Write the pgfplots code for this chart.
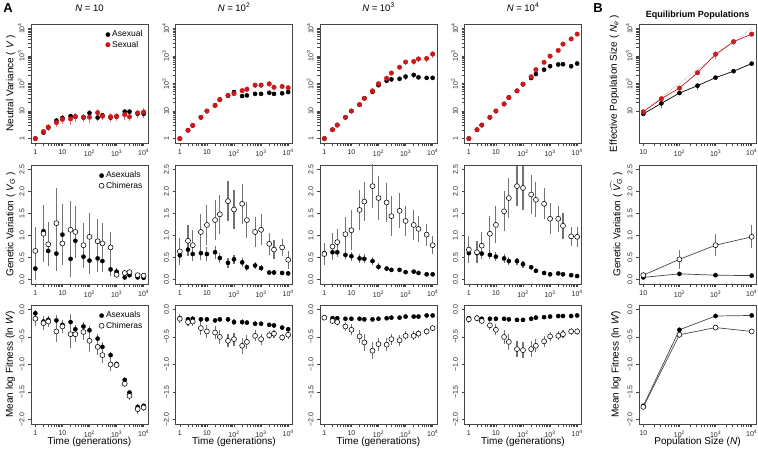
\documentclass[border=0pt]{standalone}
\usepackage{fontspec}
\setmainfont{Liberation Sans}
\setsansfont{Liberation Sans}
\usepackage{pgfplots}
\pgfplotsset{compat=1.18}
\usepackage{pgfplotstable}

\definecolor{rred}{RGB}{205,25,25}
\definecolor{ebred}{RGB}{232,120,120}
\definecolor{ebgray}{RGB}{115,115,115}
\definecolor{frm}{RGB}{70,70,70}
\definecolor{lgray}{RGB}{70,70,70}

\newcommand{\tpow}[1]{10\textsuperscript{#1}}

\pgfplotsset{
 rbase/.style={scale only axis, width=117pt, height=119pt, anchor=south west,
   axis line style={draw=frm, line width=0.6pt},
   tick style={draw=frm, line width=0.6pt},
   tick align=outside, major tick length=3pt,
   xtick pos=left, ytick pos=left,
   minor tick num=0,
   ticklabel style={font=\fontsize{7}{8}\selectfont, text=black!85},
   yticklabel style={rotate=90, anchor=south},
   title style={font=\fontsize{9.5}{11}\selectfont, at={(axis description cs:0.5,1)}, anchor=base, yshift=6.5pt},
   xlabel style={font=\fontsize{10}{11}\selectfont, at={(axis description cs:0.5,0)}, anchor=base, yshift=-21pt},
   ylabel style={font=\fontsize{10}{11}\selectfont, anchor=base},
   legend style={draw=none, fill=none, at={(axis description cs:0.98,0.97)}, anchor=north east,
      font=\fontsize{8.5}{9}\selectfont, row sep=-1.5pt, inner sep=1pt},
   legend cell align=left,
 },
 timex/.style={xmin=0.6918, xmax=14454, xtick={1,10,100,1000,10000},
   xticklabels={1,10,\tpow{2},\tpow{3},\tpow{4}}},
 popx/.style={xmin=7.586, xmax=13183, xtick={10,100,1000,10000},
   xticklabels={10,\tpow{2},\tpow{3},\tpow{4}}},
 logy/.style={ymin=0.6918, ymax=14454},
 vgy/.style={ymin=-0.1, ymax=2.6, ytick={0,0.5,1,1.5,2,2.5}, yticklabels={0.0,0.5,1.0,1.5,2.0,2.5}},
 fity/.style={ymin=-2.08, ymax=0.08, ytick={-2,-1.5,-1,-0.5,0}, yticklabels={−2.0,−1.5,−1.0,−0.5,0.0}},
 fdot/.style={only marks, mark=*, mark size=2.1pt, draw=black, fill=black},
 rdot/.style={only marks, mark=*, mark size=2.3pt, draw=rred, fill=rred},
 odot/.style={only marks, mark=*, mark size=2.5pt, mark options={draw=black, fill=white, line width=0.55pt}},
}

\newcommand{\rowone}[1]{%
 \addplot[forget plot, draw=none, mark=none, error bars/.cd, y dir=both, y explicit relative,
   error mark=none, error bar style={draw=ebgray, line width=1.1pt, solid}] table[x=x,y=a,y error=ae]{#1};
 \addplot[forget plot, draw=none, mark=none, error bars/.cd, y dir=both, y explicit relative,
   error mark=none, error bar style={draw=ebred, line width=1.1pt, solid}] table[x=x,y=b,y error=be]{#1};
 \addplot[fdot] table[x=x,y=a]{#1};
 \addplot[rdot] table[x=x,y=b]{#1};
}
\newcommand{\rowtwo}[1]{%
 \addplot[forget plot, draw=none, mark=none, error bars/.cd, y dir=both, y explicit,
   error mark=none, error bar style={draw=ebgray, line width=1.1pt, solid}] table[x=x,y=b,y error=be]{#1};
 \addplot[forget plot, draw=none, mark=none, error bars/.cd, y dir=both, y explicit,
   error mark=none, error bar style={draw=ebgray, line width=1.1pt, solid}] table[x=x,y=a,y error=ae]{#1};
 \addplot[fdot] table[x=x,y=a]{#1};
 \addplot[odot] table[x=x,y=b]{#1};
}

% Row 1: neutral variance
\pgfplotstableread{
x a ae b be
1 1.0 0.15 1.0 0.2
2 1.66 0.2 1.8 0.25
3 2.5 0.2 2.6 0.25
6 4.5 0.25 3.8 0.3
10 5.6 0.25 5.0 0.35
20 6.5 0.25 5.2 0.4
30 6.3 0.3 6.3 0.35
60 5.8 0.3 6.0 0.35
100 8.5 0.3 6.0 0.4
200 5.8 0.25 8.7 0.35
300 7.0 0.25 6.5 0.3
600 5.8 0.3 6.2 0.35
1000 6.3 0.3 6.5 0.35
2000 9.5 0.3 7.4 0.35
3000 9.5 0.25 6.2 0.3
6000 8.0 0.3 8.5 0.3
10000 8.0 0.3 9.2 0.35
}\tA
\pgfplotstableread{
x a ae b be
1 1 0.05 1 0.05
2 2 0.05 2 0.05
3 3 0.05 3 0.05
6 5.9 0.05 5.9 0.05
10 10 0.05 10 0.05
20 16 0.08 16 0.08
30 26 0.08 26 0.08
60 36 0.12 37 0.1
100 49 0.2 43 0.15
200 35 0.15 55 0.15
300 37 0.15 62 0.2
600 42 0.12 87 0.2
1000 42 0.1 87 0.2
2000 46 0.1 97 0.25
3000 42 0.12 73 0.15
6000 44 0.15 78 0.15
10000 49 0.15 70 0.15
}\tB
\pgfplotstableread{
x a ae b be
1 1 0.05 1 0.05
2 2.1 0.05 2.1 0.05
3 3.1 0.05 3.1 0.05
6 5.9 0.05 5.9 0.05
10 10 0.05 10 0.05
20 17 0.05 17 0.05
30 29 0.08 29 0.08
60 50 0.1 54 0.1
100 87 0.1 98 0.1
200 125 0.12 155 0.1
300 141 0.15 240 0.1
600 148 0.15 390 0.15
1000 178 0.25 600 0.15
2000 205 0.2 630 0.25
3000 167 0.12 780 0.2
6000 160 0.1 810 0.25
10000 160 0.1 1170 0.25
}\tC
\pgfplotstableread{
x a ae b be
1 1 0.05 1 0.05
2 2.1 0.05 2.1 0.05
3 3.1 0.05 3.1 0.05
6 5.9 0.05 5.9 0.05
10 10 0.05 10 0.05
20 18 0.05 18 0.05
30 31 0.05 31 0.05
60 54 0.05 54 0.05
100 94 0.08 94 0.08
200 158 0.08 176 0.08
300 220 0.08 318 0.08
600 318 0.08 590 0.08
1000 424 0.1 985 0.08
2000 490 0.1 1590 0.08
3000 500 0.1 2700 0.08
6000 424 0.1 4150 0.08
10000 530 0.12 6200 0.08
}\tD
% Row 2: genetic variation (a = asexuals, b = chimeras)
\pgfplotstableread{
x a ae b be
1 0.25 0.25 0.65 0.55
2 1.10 0.6 1.04 0.65
3 0.65 0.3 0.80 0.5
6 0.59 0.4 1.28 0.8
10 1.02 0.7 0.82 0.5
20 0.47 0.42 1.13 0.65
30 0.88 0.4 1.08 0.6
60 0.52 0.25 0.78 0.5
100 0.43 0.3 0.97 0.55
200 0.48 0.3 0.87 0.5
300 0.42 0.25 0.82 0.47
600 0.23 0.15 0.73 0.35
1000 0.18 0.08 0.11 0.06
2000 0.05 0.05 0.15 0.05
3000 0.10 0.06 0.17 0.08
6000 0.05 0.04 0.10 0.05
10000 0.04 0.04 0.09 0.05
}\tE
\pgfplotstableread{
x a ae b be
1 0.55 0.15 0.64 0.3
2 0.68 0.12 0.88 0.35
3 0.58 0.15 0.78 0.35
6 0.60 0.15 1.08 0.4
10 0.58 0.15 1.24 0.45
20 0.62 0.15 1.35 0.45
30 0.49 0.12 1.48 0.45
60 0.38 0.12 1.78 0.45
100 0.46 0.1 1.59 0.45
200 0.39 0.1 1.72 0.45
300 0.28 0.08 1.35 0.4
600 0.32 0.08 1.08 0.35
1000 0.26 0.06 1.13 0.35
2000 0.16 0.05 0.81 0.25
3000 0.16 0.05 0.68 0.22
6000 0.15 0.05 0.73 0.2
10000 0.14 0.05 0.45 0.2
}\tF
\pgfplotstableread{
x a ae b be
1 0.60 0.1 0.58 0.25
2 0.62 0.1 0.75 0.3
3 0.62 0.1 0.85 0.3
6 0.56 0.1 1.03 0.4
10 0.53 0.1 1.12 0.45
20 0.48 0.1 1.58 0.45
30 0.47 0.1 1.77 0.45
60 0.42 0.1 2.12 0.5
100 0.29 0.08 1.85 0.5
200 0.25 0.06 1.75 0.45
300 0.22 0.05 1.44 0.45
600 0.22 0.05 1.56 0.4
1000 0.17 0.04 1.33 0.35
2000 0.18 0.04 1.24 0.35
3000 0.15 0.04 1.15 0.3
6000 0.12 0.03 1.02 0.25
10000 0.12 0.03 0.78 0.2
}\tG
\pgfplotstableread{
x a ae b be
1 0.60 0.1 0.68 0.3
2 0.60 0.1 0.62 0.25
3 0.59 0.1 0.77 0.3
6 0.56 0.1 1.04 0.4
10 0.52 0.1 1.24 0.42
20 0.48 0.1 1.55 0.45
30 0.42 0.1 1.85 0.45
60 0.42 0.08 2.12 0.45
100 0.35 0.08 2.08 0.5
200 0.28 0.06 1.93 0.45
300 0.20 0.05 1.81 0.4
600 0.15 0.04 1.72 0.35
1000 0.12 0.03 1.38 0.35
2000 0.14 0.03 1.38 0.3
3000 0.12 0.03 1.22 0.3
6000 0.10 0.03 0.98 0.22
10000 0.08 0.03 0.97 0.22
}\tH
% Row 3: mean log fitness
\pgfplotstableread{
x a ae b be
1 -0.07 0.06 -0.17 0.13
2 -0.22 0.08 -0.25 0.13
3 -0.19 0.06 -0.22 0.1
6 -0.20 0.1 -0.40 0.2
10 -0.28 0.07 -0.31 0.12
20 -0.23 0.15 -0.45 0.25
30 -0.36 0.08 -0.45 0.15
60 -0.31 0.08 -0.41 0.15
100 -0.38 0.08 -0.57 0.2
200 -0.53 0.08 -0.68 0.15
300 -0.68 0.08 -0.83 0.15
600 -0.83 0.06 -1.00 0.12
1000 -0.99 0.04 -1.01 0.06
2000 -1.28 0.05 -1.35 0.06
3000 -1.51 0.05 -1.57 0.08
6000 -1.77 0.05 -1.81 0.08
10000 -1.75 0.04 -1.78 0.06
}\tI
\pgfplotstableread{
x a ae b be
1 -0.16 0.05 -0.17 0.08
2 -0.18 0.05 -0.23 0.08
3 -0.17 0.05 -0.22 0.08
6 -0.18 0.05 -0.34 0.12
10 -0.18 0.05 -0.40 0.12
20 -0.20 0.05 -0.42 0.12
30 -0.18 0.05 -0.50 0.12
60 -0.18 0.05 -0.57 0.12
100 -0.23 0.05 -0.54 0.12
200 -0.23 0.05 -0.66 0.15
300 -0.24 0.05 -0.59 0.12
600 -0.26 0.05 -0.48 0.1
1000 -0.26 0.05 -0.54 0.1
2000 -0.28 0.04 -0.47 0.07
3000 -0.29 0.04 -0.44 0.07
6000 -0.33 0.04 -0.51 0.07
10000 -0.36 0.04 -0.46 0.07
}\tJ
\pgfplotstableread{
x a ae b be
1 -0.15 0.04 -0.15 0.05
2 -0.16 0.04 -0.21 0.06
3 -0.16 0.04 -0.23 0.06
6 -0.17 0.04 -0.31 0.08
10 -0.17 0.04 -0.37 0.1
20 -0.17 0.04 -0.49 0.12
30 -0.18 0.04 -0.60 0.15
60 -0.18 0.04 -0.75 0.15
100 -0.17 0.04 -0.63 0.12
200 -0.16 0.04 -0.64 0.12
300 -0.15 0.04 -0.54 0.1
600 -0.15 0.04 -0.56 0.1
1000 -0.13 0.03 -0.48 0.08
2000 -0.13 0.03 -0.48 0.08
3000 -0.13 0.03 -0.44 0.07
6000 -0.11 0.03 -0.40 0.07
10000 -0.11 0.03 -0.34 0.06
}\tK
\pgfplotstableread{
x a ae b be
1 -0.16 0.04 -0.18 0.06
2 -0.16 0.04 -0.16 0.05
3 -0.17 0.04 -0.21 0.06
6 -0.17 0.04 -0.29 0.08
10 -0.17 0.04 -0.37 0.1
20 -0.17 0.04 -0.50 0.12
30 -0.18 0.04 -0.59 0.15
60 -0.19 0.04 -0.72 0.15
100 -0.19 0.04 -0.74 0.15
200 -0.17 0.04 -0.72 0.15
300 -0.15 0.04 -0.66 0.12
600 -0.14 0.04 -0.58 0.1
1000 -0.13 0.03 -0.49 0.08
2000 -0.12 0.03 -0.48 0.08
3000 -0.12 0.03 -0.45 0.07
6000 -0.12 0.03 -0.40 0.06
10000 -0.11 0.03 -0.40 0.06
}\tL
% Panel B
\pgfplotstableread{
x a ae b be
10 7.9 0.15 9.4 0.15
31.6 19 0.3 28 0.15
100 45 0.12 68 0.15
316 83 0.3 245 0.2
1000 163 0.1 1150 0.3
3162 280 0.08 3300 0.25
10000 525 0.1 6200 0.15
}\tM
\pgfplotstableread{
x a ae b be
10 0.05 0.02 0.10 0.08
100 0.13 0.03 0.46 0.22
1000 0.10 0.02 0.78 0.25
10000 0.09 0.02 0.97 0.26
}\tN
\pgfplotstableread{
x a ae b be
10 -1.75 0.03 -1.77 0.04
100 -0.37 0.03 -0.46 0.05
1000 -0.12 0.02 -0.33 0.05
10000 -0.11 0.02 -0.40 0.05
}\tO

\begin{document}
\begin{tikzpicture}
\useasboundingbox (0,0) rectangle (758pt,449pt);

% ---------- Row 1 ----------
\begin{axis}[xmode=log, ymode=log, rbase, timex, logy, at={(31pt,306pt)},
  ytick={1,10,100,1000,10000}, yticklabels={1,10,\tpow{2},\tpow{3},\tpow{4}},
  title={\textit{N} = 10},
  ylabel={Neutral Variance ( \textit{V} )}, ylabel style={at={(axis description cs:-0.15,0.5)}}]
\rowone{\tA}
\legend{Asexual,Sexual}
\end{axis}
\begin{axis}[xmode=log, ymode=log, rbase, timex, logy, at={(175.5pt,306pt)},
  ytick={1,10,100,1000,10000}, yticklabels={1,10,\tpow{2},\tpow{3},\tpow{4}},
  title={\textit{N} = \tpow{2}}]
\rowone{\tB}
\end{axis}
\begin{axis}[xmode=log, ymode=log, rbase, timex, logy, at={(320pt,306pt)},
  ytick={1,10,100,1000,10000}, yticklabels={1,10,\tpow{2},\tpow{3},\tpow{4}},
  title={\textit{N} = \tpow{3}}]
\rowone{\tC}
\end{axis}
\begin{axis}[xmode=log, ymode=log, rbase, timex, logy, at={(464.5pt,306pt)},
  ytick={1,10,100,1000,10000}, yticklabels={1,10,\tpow{2},\tpow{3},\tpow{4}},
  title={\textit{N} = \tpow{4}}]
\rowone{\tD}
\end{axis}

% ---------- Row 2 ----------
\begin{axis}[xmode=log, rbase, timex, vgy, at={(31pt,165pt)},
  ylabel={Genetic Variation ( \textit{V}\textsubscript{\textit{G}} )}, ylabel style={at={(axis description cs:-0.15,0.5)}}]
\rowtwo{\tE}
\legend{Asexuals,Chimeras}
\end{axis}
\begin{axis}[xmode=log, rbase, timex, vgy, at={(175.5pt,165pt)}]
\rowtwo{\tF}
\end{axis}
\begin{axis}[xmode=log, rbase, timex, vgy, at={(320pt,165pt)}]
\rowtwo{\tG}
\end{axis}
\begin{axis}[xmode=log, rbase, timex, vgy, at={(464.5pt,165pt)}]
\rowtwo{\tH}
\end{axis}

% ---------- Row 3 ----------
\begin{axis}[xmode=log, rbase, timex, fity, at={(31pt,25pt)}, xlabel={Time (generations)},
  ylabel={Mean log Fitness (ln \textit{W})}, ylabel style={at={(axis description cs:-0.155,0.5)}}]
\rowtwo{\tI}
\legend{Asexuals,Chimeras}
\end{axis}
\begin{axis}[xmode=log, rbase, timex, fity, at={(175.5pt,25pt)}, xlabel={Time (generations)}]
\rowtwo{\tJ}
\end{axis}
\begin{axis}[xmode=log, rbase, timex, fity, at={(320pt,25pt)}, xlabel={Time (generations)}]
\rowtwo{\tK}
\end{axis}
\begin{axis}[xmode=log, rbase, timex, fity, at={(464.5pt,25pt)}, xlabel={Time (generations)}]
\rowtwo{\tL}
\end{axis}

% ---------- Panel B ----------
\begin{axis}[xmode=log, ymode=log, rbase, popx, logy, at={(639pt,306pt)},
  ytick={10,100,1000,10000}, yticklabels={10,\tpow{2},\tpow{3},\tpow{4}},
  ylabel={Effective Population Size ( \textit{N}\textsubscript{\textit{e}} )}, ylabel style={at={(axis description cs:-0.19,0.5)}}]
\addplot[forget plot, gray!70, densely dotted, line width=0.6pt] coordinates {(10,10) (10000,10000)};
\addplot[forget plot, draw=none, mark=none, error bars/.cd, y dir=both, y explicit relative,
   error mark=none, error bar style={draw=ebgray, line width=1.1pt, solid}] table[x=x,y=a,y error=ae]{\tM};
\addplot[forget plot, draw=none, mark=none, error bars/.cd, y dir=both, y explicit relative,
   error mark=none, error bar style={draw=ebred, line width=1.1pt, solid}] table[x=x,y=b,y error=be]{\tM};
\addplot[forget plot, black, line width=0.7pt] table[x=x,y=a]{\tM};
\addplot[forget plot, rred, line width=0.7pt] table[x=x,y=b]{\tM};
\addplot[fdot] table[x=x,y=a]{\tM};
\addplot[rdot] table[x=x,y=b]{\tM};
\end{axis}
\begin{axis}[xmode=log, rbase, popx, vgy, at={(639pt,165pt)},
  ylabel={Genetic Variation ( $\widehat{\mbox{\textit{V}\textsubscript{\textit{G}}}}$ )}, ylabel style={at={(axis description cs:-0.16,0.5)}}]
\addplot[forget plot, lgray, line width=0.7pt] table[x=x,y=a]{\tN};
\addplot[forget plot, lgray, line width=0.7pt] table[x=x,y=b]{\tN};
\rowtwo{\tN}
\end{axis}
\begin{axis}[xmode=log, rbase, popx, fity, at={(639pt,25pt)}, xlabel={Population Size (\textit{N})},
  ylabel={Mean log Fitness (ln \^{\textit{W}})}, ylabel style={at={(axis description cs:-0.175,0.5)}}]
\addplot[forget plot, lgray, line width=0.7pt] table[x=x,y=a]{\tO};
\addplot[forget plot, lgray, line width=0.7pt] table[x=x,y=b]{\tO};
\rowtwo{\tO}
\end{axis}

\node[font=\bfseries\fontsize{13}{13}\selectfont] at (8pt,441pt) {A};
\node[font=\bfseries\fontsize{13}{13}\selectfont] at (598pt,441pt) {B};
\node[font=\bfseries\fontsize{9}{10}\selectfont] at (697.5pt,434pt) {Equilibrium Populations};
\end{tikzpicture}
\end{document}
